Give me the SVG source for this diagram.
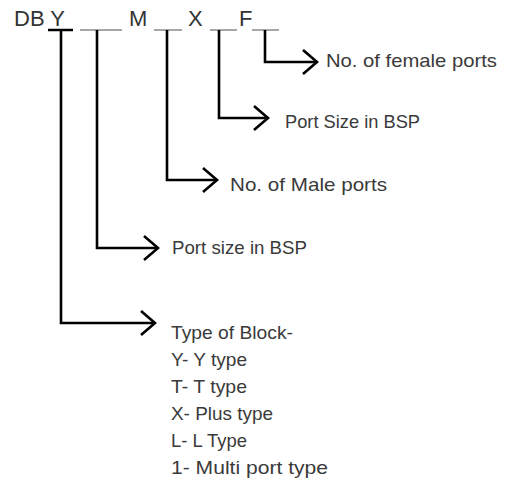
<svg xmlns="http://www.w3.org/2000/svg" width="513" height="481" viewBox="0 0 513 481">
<style>
.code{font-family:"Liberation Sans",Arial,sans-serif;font-size:22px;fill:#333}
.lbl{font-family:"Liberation Sans",Arial,sans-serif;font-size:19px;fill:#3a3a3a}
.dash{stroke:#8a8a8a;stroke-width:1.5;fill:none}
.conn{stroke:#000;stroke-width:2.6;fill:none;marker-end:url(#chev)}
</style>
<defs>
<marker id="chev" markerUnits="userSpaceOnUse" markerWidth="30" markerHeight="30" viewBox="-16 -15 20 30" refX="0" refY="0" orient="auto">
<path d="M-14,-12 L0,0 L-14,12" fill="none" stroke="#000" stroke-width="2.6" stroke-linejoin="miter"/>
</marker>
</defs>
<rect width="513" height="481" fill="#fff"/>
<g id="code">
<text class="code" x="14" y="26">DB Y</text>
<text class="code" x="129" y="26">M</text>
<text class="code" x="188" y="26">X</text>
<text class="code" x="239" y="26">F</text>
<line class="dash" x1="80" y1="30" x2="122" y2="30"/>
<line class="dash" x1="154" y1="30" x2="182" y2="30"/>
<line class="dash" x1="210" y1="30" x2="237" y2="30"/>
<line class="dash" x1="252" y1="30" x2="279" y2="30"/>
<line x1="48" y1="30" x2="73" y2="30" stroke="#000" stroke-width="2.5"/>
</g>
<g id="connectors">
<path class="conn" d="M61,30 V323 H155"/>
<path class="conn" d="M97,30 V248 H158"/>
<path class="conn" d="M167,30 V180 H217"/>
<path class="conn" d="M219,30 V118 H268"/>
<path class="conn" d="M265,30 V62 H317"/>
</g>
<g id="female"><text class="lbl" x="326" y="67" textLength="171" lengthAdjust="spacingAndGlyphs">No. of female ports</text></g>
<g id="sizeX"><text class="lbl" x="285" y="128" textLength="135" lengthAdjust="spacingAndGlyphs">Port Size in BSP</text></g>
<g id="male"><text class="lbl" x="230" y="191" textLength="157" lengthAdjust="spacingAndGlyphs">No. of Male ports</text></g>
<g id="sizeM"><text class="lbl" x="172" y="254" textLength="135" lengthAdjust="spacingAndGlyphs">Port size in BSP</text></g>
<g id="type">
<text class="lbl" x="171" y="339" textLength="122" lengthAdjust="spacingAndGlyphs">Type of Block-</text>
<text class="lbl" x="171" y="366" textLength="76" lengthAdjust="spacingAndGlyphs">Y- Y type</text>
<text class="lbl" x="171" y="393" textLength="76" lengthAdjust="spacingAndGlyphs">T- T type</text>
<text class="lbl" x="171" y="420" textLength="102" lengthAdjust="spacingAndGlyphs">X- Plus type</text>
<text class="lbl" x="171" y="447" textLength="76" lengthAdjust="spacingAndGlyphs">L- L Type</text>
<text class="lbl" x="171" y="474" textLength="157" lengthAdjust="spacingAndGlyphs">1- Multi port type</text>
</g>
</svg>
